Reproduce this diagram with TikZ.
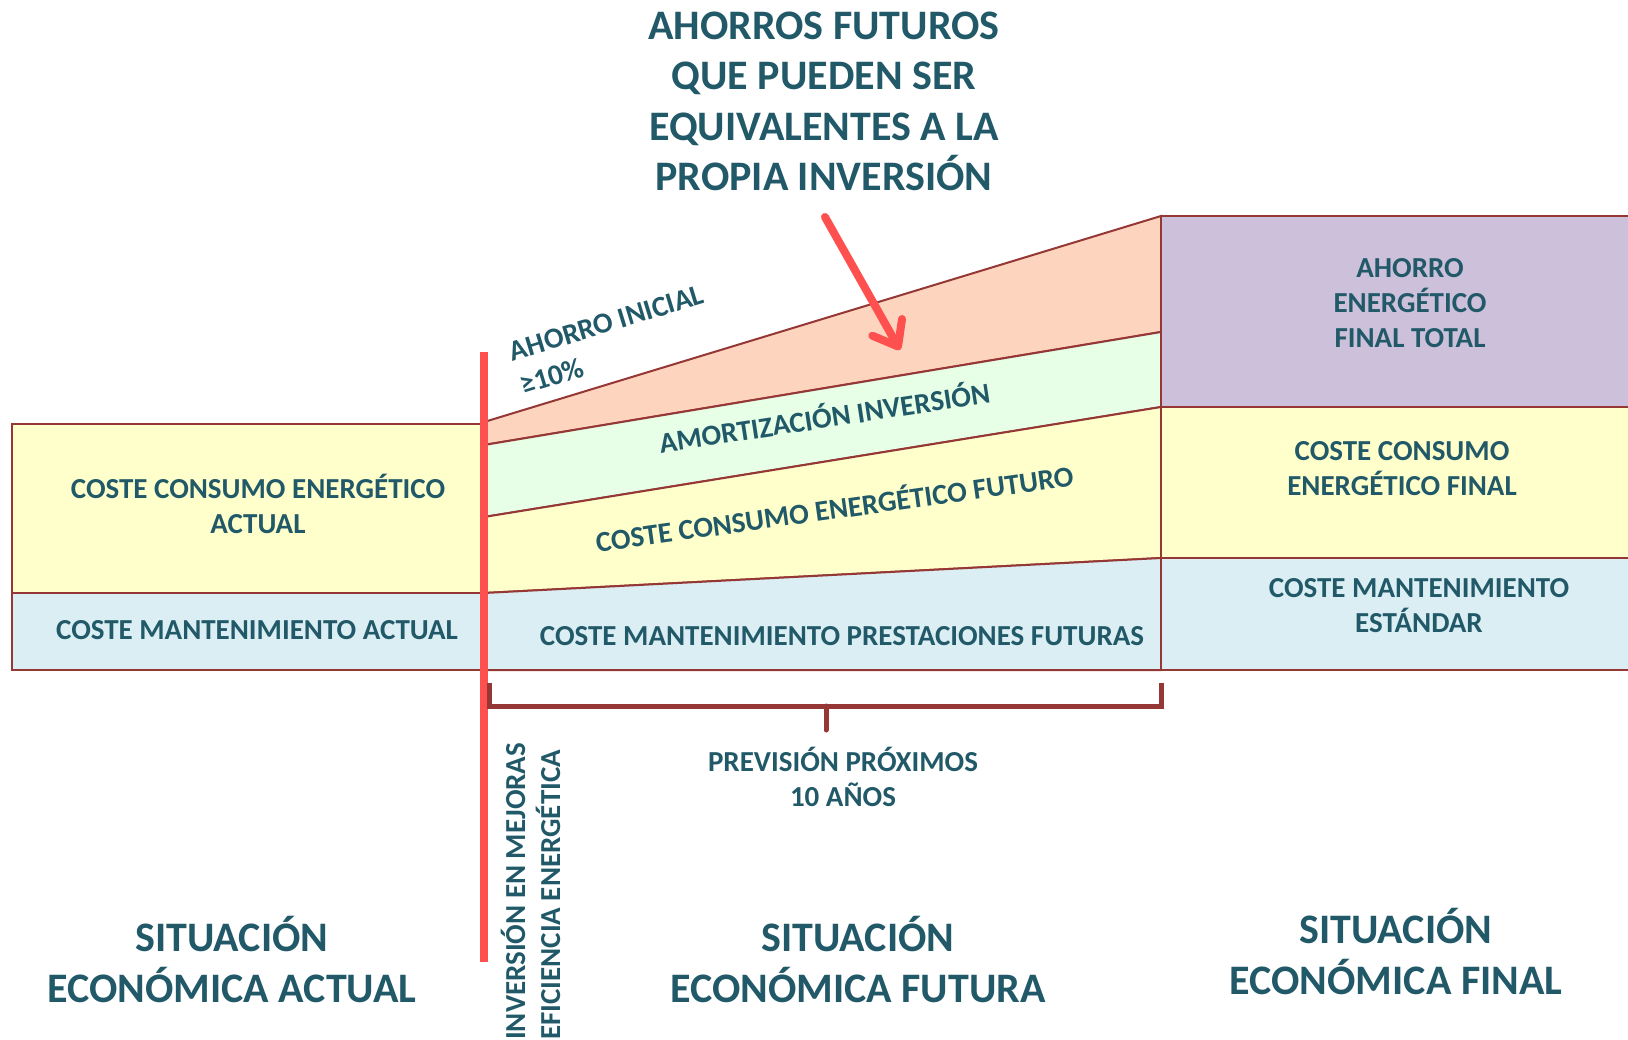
\documentclass[tikz,border=0pt]{standalone}
\usepackage{fontspec}
\setmainfont{Carlito}
\usetikzlibrary{arrows.meta}
\definecolor{txt}{HTML}{215968}
\definecolor{bord}{HTML}{953735}
\definecolor{redl}{HTML}{FF5050}
\definecolor{fyel}{HTML}{FFFFCC}
\definecolor{fblu}{HTML}{DAEEF3}
\definecolor{fora}{HTML}{FDD4BE}
\definecolor{fgre}{HTML}{E6FFE6}
\definecolor{fpur}{HTML}{CCC0DA}
\begin{document}
\begin{tikzpicture}[x=1pt,y=-1pt,
  lbl/.style={text=txt, font=\bfseries\fontsize{29}{35}\selectfont, align=center, inner sep=0pt, anchor=base},
  big/.style={text=txt, font=\bfseries\fontsize{42}{50.5}\selectfont, align=center, inner sep=0pt, anchor=base},
  region/.style={draw=bord, line width=2pt, line join=miter},
  redline/.style={draw=redl, line width=8pt},
  bracketline/.style={draw=bord, line width=5pt}]
\useasboundingbox (0,0) rectangle (1628,1039);
% left column
\path[region, fill=fyel] (12,424) rectangle (484,593);
\path[region, fill=fblu] (12,593) rectangle (484,670);
% middle column
\path[region, fill=fora] (484,422) -- (1161,216) -- (1161,332) -- (484,445) -- cycle;
\path[region, fill=fgre] (484,445) -- (1161,332) -- (1161,407) -- (484,517) -- cycle;
\path[region, fill=fyel] (484,517) -- (1161,407) -- (1161,558) -- (484,593) -- cycle;
\path[region, fill=fblu] (484,593) -- (1161,558) -- (1161,670) -- (484,670) -- cycle;
% right column
\path[region, fill=fpur] (1161,216) rectangle (1640,407);
\path[region, fill=fyel] (1161,407) rectangle (1640,558);
\path[region, fill=fblu] (1161,558) rectangle (1640,670);
% red vertical line
\coordinate (rtop) at (484,352);
\coordinate (rbot) at (484,962);
\draw[redline] (rtop) -- (rbot);
% bracket
\coordinate (bl) at (489,683);
\coordinate (br) at (1161,683);
\coordinate (bm) at (826,706);
\coordinate (bt) at (826,730);
\draw[bracketline] (bl) -- (489,706) -- (1161,706) -- (br);
\draw[bracketline, line cap=round] (bm) -- (bt);
% texts (base anchor = baseline of the last line)
\node[big] (title) at (824,190.5) {AHORROS FUTUROS\\QUE PUEDEN SER\\EQUIVALENTES A LA\\PROPIA INVERSIÓN};
\node[lbl] (cca) at (258,533) {COSTE CONSUMO ENERGÉTICO\\ACTUAL};
\node[lbl] (cma) at (257,639) {COSTE MANTENIMIENTO ACTUAL};
\node[lbl, anchor=base west, align=left, rotate=17] (ai) at (523,395) {AHORRO INICIAL\\≥10\%};
\node[lbl, rotate=8.7] (am) at (826,428) {AMORTIZACIÓN INVERSIÓN};
\node[lbl, rotate=8] (ccf) at (836,519) {COSTE CONSUMO ENERGÉTICO FUTURO};
\node[lbl] (cmf) at (842,645) {COSTE MANTENIMIENTO PRESTACIONES FUTURAS};
\node[lbl] (aef) at (1410,347) {AHORRO\\ENERGÉTICO\\FINAL TOTAL};
\node[lbl] (ccfin) at (1402,495) {COSTE CONSUMO\\ENERGÉTICO FINAL};
\node[lbl] (cme) at (1419,632) {COSTE MANTENIMIENTO\\ESTÁNDAR};
\node[lbl] (prev) at (843,806) {PREVISIÓN PRÓXIMOS\\10 AÑOS};
\node[lbl, rotate=90, anchor=base west] (inv1) at (525,1040) {INVERSIÓN EN MEJORAS};
\node[lbl, rotate=90, anchor=base west] (inv2) at (560,1040) {EFICIENCIA ENERGÉTICA};
\node[big] (sa) at (232,1002) {SITUACIÓN\\ECONÓMICA ACTUAL};
\node[big] (sf) at (858,1002) {SITUACIÓN\\ECONÓMICA FUTURA};
\node[big] (sfin) at (1396,994) {SITUACIÓN\\ECONÓMICA FINAL};
% arrow
\coordinate (as) at (825,217);
\coordinate (ae) at (900,350);
\draw[redline, line cap=round, -{Straight Barb[length=22pt,width=34pt,round]}] (as) -- (ae);
\end{tikzpicture}
\end{document}
